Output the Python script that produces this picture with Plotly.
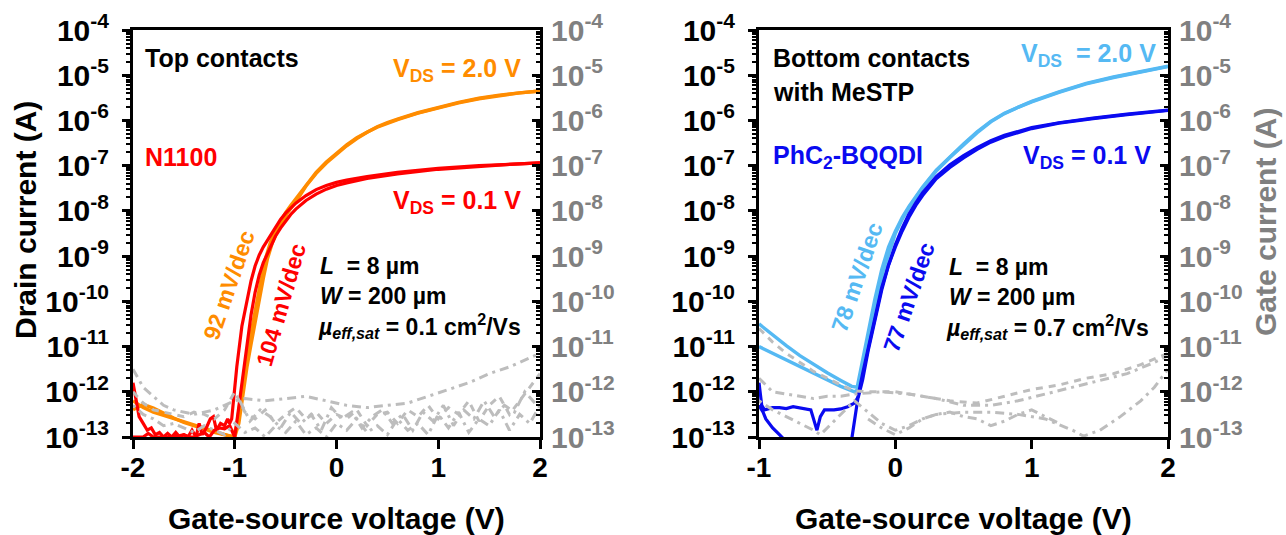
import plotly.graph_objects as go

# ---------------- Top-contact N1100 transistor (left panel) ----------------
vgs_n1100_2v0_fwd = [-2.0, -1.9, -1.8, -1.7, -1.6, -1.5, -1.4, -1.3, -1.2, -1.1, -1.02, -0.98, -0.94,
                     -0.9, -0.86, -0.82, -0.78, -0.74, -0.7, -0.65, -0.6, -0.55, -0.5, -0.45, -0.4,
                     -0.3, -0.2, -0.1, 0.0, 0.1, 0.2, 0.3, 0.4, 0.5, 0.6, 0.8, 1.0, 1.2, 1.4, 1.6, 1.8,
                     2.0]
logid_n1100_2v0_fwd = [-12.2, -12.35, -12.45, -12.52, -12.58, -12.65, -12.72, -12.8, -12.86, -12.93, -13.0,
                       -12.75, -12.1, -11.45, -10.95, -10.45, -9.97, -9.5, -9.07, -8.7, -8.43, -8.22,
                       -8.04, -7.88, -7.73, -7.42, -7.15, -6.92, -6.72, -6.54, -6.38, -6.25, -6.14,
                       -6.05, -5.97, -5.83, -5.71, -5.6, -5.51, -5.44, -5.39, -5.35]

vgs_n1100_2v0_rev = [-2.0, -1.9, -1.8, -1.7, -1.6, -1.5, -1.4, -1.3, -1.2, -1.1, -1.0, -0.96, -0.92,
                     -0.88, -0.84, -0.8, -0.76, -0.72, -0.68, -0.63, -0.58, -0.53, -0.48, -0.43,
                     -0.38, -0.3, -0.2, -0.1, 0.0, 0.1, 0.2, 0.3, 0.4, 0.5, 0.6, 0.8, 1.0, 1.2, 1.4,
                     1.6, 1.8, 2.0]
logid_n1100_2v0_rev = [-12.4, -12.28, -12.36, -12.48, -12.58, -12.68, -12.75, -12.82, -12.9, -12.95, -13.0,
                       -12.7, -12.05, -11.45, -10.95, -10.45, -9.97, -9.5, -9.07, -8.7, -8.43, -8.22,
                       -8.04, -7.88, -7.73, -7.45, -7.17, -6.94, -6.74, -6.56, -6.4, -6.26, -6.15,
                       -6.06, -5.98, -5.84, -5.72, -5.61, -5.52, -5.45, -5.39, -5.35]

vgs_n1100_0v1_fwd = [-2.0, -1.97, -1.94, -1.9, -1.86, -1.82, -1.78, -1.74, -1.7, -1.66, -1.62, -1.58,
                     -1.54, -1.5, -1.46, -1.42, -1.38, -1.35, -1.32, -1.28, -1.24, -1.21, -1.18, -1.14,
                     -1.1, -1.07, -1.05, -1.03, -0.98, -0.93, -0.88, -0.84, -0.8, -0.76, -0.72, -0.65,
                     -0.6, -0.55, -0.5, -0.45, -0.4, -0.3, -0.2, -0.1, 0.0, 0.1, 0.3, 0.6, 1.0, 1.4,
                     1.7, 2.0]
logid_n1100_0v1_fwd = [-11.8, -12.2, -12.55, -12.7, -12.85, -12.8, -12.95, -12.9, -13.0, -12.92, -13.0,
                       -12.9, -13.0, -12.95, -13.0, -12.85, -13.0, -12.7, -12.95, -12.8, -12.6, -12.55,
                       -12.85, -12.7, -12.75, -12.6, -12.7, -12.6, -11.45, -10.55, -9.97, -9.55, -9.22,
                       -8.98, -8.8, -8.55, -8.36, -8.19, -8.05, -7.93, -7.83, -7.66, -7.53, -7.44,
                       -7.37, -7.32, -7.24, -7.15, -7.06, -7.0, -6.97, -6.94]

vgs_n1100_0v1_rev = [-2.0, -1.9, -1.85, -1.8, -1.7, -1.6, -1.5, -1.45, -1.4, -1.3, -1.25, -1.2, -1.15,
                     -1.1, -1.05, -1.0, -0.97, -0.93, -0.88, -0.84, -0.8, -0.76, -0.72, -0.65, -0.6,
                     -0.55, -0.5, -0.45, -0.4, -0.3, -0.2, -0.1, 0.0, 0.1, 0.3, 0.6, 1.0, 1.4, 1.7, 2.0]
logid_n1100_0v1_rev = [-13.0, -13.0, -12.92, -13.0, -13.0, -13.0, -12.95, -13.0, -13.0, -12.9, -13.0,
                       -12.85, -12.8, -12.82, -12.75, -13.0, -12.5, -11.8, -10.9, -10.3, -9.8, -9.42,
                       -9.15, -8.78, -8.56, -8.38, -8.22, -8.08, -7.96, -7.77, -7.63, -7.52, -7.44,
                       -7.38, -7.28, -7.18, -7.08, -7.01, -6.97, -6.94]

# Gate leakage of the N1100 device
vg_leak_n1100_a = [-2.0, -1.9, -1.8, -1.7, -1.6, -1.5, -1.4, -1.3, -1.2, -1.1, -1.0, -0.9, -0.7, -0.5,
                   -0.3, -0.1, 0.1, 0.3, 0.5, 0.7, 0.9, 1.1, 1.3, 1.5, 1.7, 1.9, 2.0]
logig_leak_n1100_a = [-11.5, -11.9, -12.1, -12.3, -12.4, -12.45, -12.5, -12.45, -12.4, -12.3, -12.2,
                      -12.15, -12.2, -12.15, -12.1, -12.2, -12.3, -12.35, -12.3, -12.25, -12.1, -11.95,
                      -11.8, -11.6, -11.45, -11.25, -11.15]

vg_leak_n1100_b = [-2.0, -1.9, -1.8, -1.7, -1.6, -1.5, -1.4, -1.3, -1.2, -1.1, -1.0, -0.9, -0.8, -0.7,
                   -0.6, -0.5, -0.4, -0.3, -0.2, -0.1, 0.0, 0.1, 0.2, 0.3, 0.4, 0.5, 0.6, 0.7, 0.8, 0.9,
                   1.0, 1.1, 1.2, 1.3, 1.4, 1.5, 1.6, 1.7, 1.8, 1.9, 2.0]
logig_leak_n1100_b = [-12.0, -12.25, -12.4, -12.45, -12.5, -12.55, -12.45, -12.5, -12.6, -12.4, -12.0,
                      -12.45, -12.6, -12.4, -12.7, -12.5, -12.35, -12.6, -12.45, -12.7, -12.5, -12.6,
                      -12.4, -12.75, -12.5, -12.45, -12.7, -12.4, -12.55, -12.3, -12.6, -12.35, -12.5,
                      -12.2, -12.65, -12.3, -12.1, -12.5, -12.2, -11.9, -11.6]

vg_leak_n1100_c = [-2.0, -1.9, -1.8, -1.7, -1.6, -1.5, -1.4, -1.3, -1.2, -1.1, -1.0, -0.9, -0.8, -0.7,
                   -0.6, -0.5, -0.4, -0.3, -0.2, -0.1, 0.0, 0.1, 0.2, 0.3, 0.4, 0.5, 0.6, 0.7, 0.8, 0.9,
                   1.0, 1.1, 1.2, 1.3, 1.4, 1.5, 1.6, 1.7, 1.8, 1.9, 2.0]
logig_leak_n1100_c = [-12.3, -12.5, -12.6, -12.75, -12.7, -12.8, -12.9, -12.75, -12.85, -12.95, -12.7,
                      -12.9, -12.8, -13.0, -12.75, -12.9, -12.65, -12.95, -12.8, -13.0, -12.7, -12.85,
                      -12.6, -12.9, -12.75, -12.95, -12.6, -12.85, -12.7, -12.95, -12.5, -12.8, -12.45,
                      -12.9, -12.6, -12.75, -12.4, -12.85, -12.5, -12.7, -12.3]

vg_leak_n1100_d = [-0.95, -0.85, -0.75, -0.65, -0.55, -0.45, -0.35, -0.25, -0.15, -0.05, 0.05, 0.15,
                   0.25, 0.35, 0.45, 0.55, 0.65, 0.75, 0.85, 0.95, 1.05, 1.15, 1.25, 1.35, 1.45, 1.55,
                   1.65, 1.75, 1.85, 1.95]
logig_leak_n1100_d = [-12.2, -12.65, -12.4, -12.55, -12.8, -12.45, -12.7, -12.5, -12.85, -12.35, -12.6,
                      -12.45, -12.8, -12.55, -12.4, -12.7, -12.5, -12.85, -12.45, -12.65, -12.3, -12.75,
                      -12.4, -12.6, -12.2, -12.55, -12.3, -12.45, -12.0, -12.25]

# ------------- Bottom-contact PhC2-BQQDI transistor (right panel) -------------
vgs_bqqdi_2v0_fwd = [-1.0, -0.9, -0.8, -0.7, -0.6, -0.5, -0.4, -0.32, -0.28, -0.24, -0.2, -0.15, -0.1,
                     -0.05, 0.0, 0.05, 0.1, 0.2, 0.3, 0.4, 0.5, 0.6, 0.7, 0.8, 0.9, 1.0, 1.2, 1.4, 1.6,
                     1.8, 2.0]
logid_bqqdi_2v0_fwd = [-10.5, -10.75, -10.98, -11.2, -11.4, -11.58, -11.75, -11.88, -11.9, -11.3, -10.7,
                       -9.95, -9.3, -8.8, -8.45, -8.15, -7.9, -7.47, -7.1, -6.8, -6.52, -6.25, -6.02,
                       -5.84, -5.7, -5.58, -5.37, -5.18, -5.04, -4.92, -4.8]

vgs_bqqdi_2v0_rev = [-1.0, -0.9, -0.8, -0.7, -0.6, -0.5, -0.4, -0.3, -0.27, -0.23, -0.19, -0.14, -0.09,
                     -0.04, 0.0, 0.05, 0.1, 0.2, 0.3, 0.4, 0.5, 0.6, 0.7, 0.8, 0.9, 1.0, 1.2, 1.4, 1.6,
                     1.8, 2.0]
logid_bqqdi_2v0_rev = [-11.0, -11.15, -11.3, -11.45, -11.6, -11.75, -11.88, -12.0, -11.95, -11.35, -10.75,
                       -10.0, -9.35, -8.85, -8.5, -8.19, -7.93, -7.49, -7.12, -6.82, -6.54, -6.27, -6.03,
                       -5.85, -5.71, -5.59, -5.38, -5.19, -5.05, -4.93, -4.81]

vgs_bqqdi_0v1_fwd = [-1.0, -0.98, -0.96, -0.93, -0.9, -0.85, -0.8, -0.75, -0.7, -0.65, -0.62, -0.6,
                     -0.575, -0.55, -0.52, -0.45, -0.4, -0.35, -0.3, -0.27, -0.24, -0.2, -0.14, -0.1,
                     -0.05, 0.0, 0.05, 0.1, 0.15, 0.2, 0.3, 0.4, 0.5, 0.6, 0.7, 0.8, 1.0, 1.2, 1.45,
                     1.7, 2.0]
logid_bqqdi_0v1_fwd = [-11.8, -12.3, -12.4, -12.38, -12.35, -12.35, -12.37, -12.33, -12.35, -12.38,
                       -12.4, -12.6, -12.85, -12.55, -12.4, -12.4, -12.38, -12.33, -12.25, -12.1, -11.74,
                       -11.1, -10.27, -9.75, -9.2, -8.75, -8.38, -8.07, -7.82, -7.6, -7.24, -6.98, -6.78,
                       -6.6, -6.45, -6.33, -6.16, -6.05, -5.95, -5.86, -5.77]

vgs_bqqdi_0v1_rev = [-1.0, -0.97, -0.95, -0.9, -0.85, -0.8, -0.7, -0.5, -0.32, -0.3, -0.27, -0.24, -0.2,
                     -0.14, -0.1, -0.05, 0.0, 0.05, 0.1, 0.15, 0.2, 0.3, 0.4, 0.5, 0.6, 0.7, 0.8, 1.0,
                     1.2, 1.45, 1.7, 2.0]
logid_bqqdi_0v1_rev = [-12.3, -12.45, -12.6, -12.8, -12.95, -13.1, -13.2, -13.2, -13.05, -12.6, -12.05,
                       -11.6, -11.05, -10.2, -9.7, -9.2, -8.8, -8.45, -8.14, -7.88, -7.66, -7.29, -7.04,
                       -6.83, -6.64, -6.48, -6.36, -6.18, -6.06, -5.96, -5.87, -5.78]

# Gate leakage of the PhC2-BQQDI device
vg_leak_bqqdi_a = [-1.0, -0.9, -0.8, -0.7, -0.6, -0.5, -0.4, -0.3, -0.2, 0.0, 0.2, 0.4, 0.6, 0.8, 1.0,
                   1.2, 1.4, 1.6, 1.8, 2.0]
logig_leak_bqqdi_a = [-10.6, -10.9, -11.15, -11.35, -11.55, -11.7, -11.85, -11.98, -12.0, -12.0, -12.1,
                      -12.2, -12.25, -12.1, -11.95, -11.85, -11.7, -11.6, -11.4, -11.15]

vg_leak_bqqdi_b = [-1.0, -0.9, -0.8, -0.7, -0.6, -0.5, -0.4, -0.3, -0.1, 0.1, 0.3, 0.5, 0.7, 0.9, 1.1,
                   1.3, 1.5, 1.7, 1.9, 2.0]
logig_leak_bqqdi_b = [-11.7, -12.0, -12.05, -12.1, -12.15, -12.1, -12.1, -12.05, -12.0, -12.05, -12.15,
                      -12.3, -12.3, -12.2, -12.05, -11.9, -11.75, -11.6, -11.35, -11.2]

vg_leak_bqqdi_c = [-1.0, -0.9, -0.8, -0.7, -0.6, -0.55, -0.5, -0.4, -0.3, -0.2, -0.1, 0.0, 0.1, 0.2,
                   0.3, 0.5, 0.7, 0.9, 1.1, 1.3, 1.38, 1.5, 1.65, 1.8, 1.9, 2.0]
logig_leak_bqqdi_c = [-12.2, -12.4, -12.55, -12.7, -12.85, -12.95, -12.8, -12.5, -12.2, -12.45, -12.7,
                      -12.85, -12.75, -12.6, -12.5, -12.45, -12.45, -12.5, -12.6, -12.85, -12.98,
                      -12.85, -12.55, -12.2, -11.9, -11.5]

vg_leak_bqqdi_d = [-0.2, -0.1, 0.0, 0.1, 0.2, 0.3, 0.4, 0.5, 0.6, 0.7, 0.8, 0.9, 1.0, 1.1, 1.2]
logig_leak_bqqdi_d = [-12.6, -12.8, -12.95, -12.8, -12.6, -12.5, -12.45, -12.55, -12.6, -12.75, -12.65,
                      -12.5, -12.4, -12.55, -12.7]

# Axis ticks
decade_exponents = [-13, -12, -11, -10, -9, -8, -7, -6, -5, -4]
x_ticks_left = [-2, -1, 0, 1, 2]
x_ticks_right = [-1, 0, 1, 2]

# ---------------- styling ----------------
W, H = 1286, 535
FONT = "Arial, Liberation Sans, sans-serif"
ORANGE = "#FF8C00"
RED = "#FF0000"
LIGHT_BLUE = "#55B9F3"
DARK_BLUE = "#0A0AF0"
LEAK_GRAY = "#BDBDBD"
TICK_GRAY = "#808080"

PLOT_TOP, PLOT_BOTTOM = 30, 437
LEFT_X0, LEFT_X1 = 133, 540
RIGHT_X0, RIGHT_X1 = 759, 1168


def fx(px):
    return px / W


def fy(py):
    return 1 - py / H


def pow10(vals):
    return [10 ** v for v in vals]


tick_vals = [10.0 ** e for e in decade_exponents]
tick_text = ["10<sup>%d</sup>" % e for e in decade_exponents]
minor_vals = [m * 10.0 ** e for e in decade_exponents[:-1] for m in range(2, 10)]

fig = go.Figure()


def add_line(x, logy, color, width, xa, ya, dash="solid"):
    fig.add_trace(go.Scatter(
        x=x, y=pow10(logy), mode="lines", xaxis=xa, yaxis=ya,
        line=dict(color=color, width=width, dash=dash),
        showlegend=False, hoverinfo="skip"))


DASH_A = "9px,5px,3px,5px"
DASH_B = "7px,6px"
DASH_C = "3px,5px,9px,5px"

# left panel: leakage first, then drain currents
add_line(vg_leak_n1100_a, logig_leak_n1100_a, LEAK_GRAY, 3, "x", "y2", DASH_A)
add_line(vg_leak_n1100_b, logig_leak_n1100_b, LEAK_GRAY, 3, "x", "y2", DASH_B)
add_line(vg_leak_n1100_c, logig_leak_n1100_c, LEAK_GRAY, 3, "x", "y2", DASH_C)
add_line(vg_leak_n1100_d, logig_leak_n1100_d, LEAK_GRAY, 3, "x", "y2", DASH_A)
add_line(vgs_n1100_2v0_fwd, logid_n1100_2v0_fwd, ORANGE, 3.4, "x", "y")
add_line(vgs_n1100_2v0_rev, logid_n1100_2v0_rev, ORANGE, 3.4, "x", "y")
add_line(vgs_n1100_0v1_fwd, logid_n1100_0v1_fwd, RED, 3.2, "x", "y")
add_line(vgs_n1100_0v1_rev, logid_n1100_0v1_rev, RED, 3.2, "x", "y")

# right panel
add_line(vg_leak_bqqdi_a, logig_leak_bqqdi_a, LEAK_GRAY, 3, "x2", "y4", DASH_B)
add_line(vg_leak_bqqdi_b, logig_leak_bqqdi_b, LEAK_GRAY, 3, "x2", "y4", DASH_A)
add_line(vg_leak_bqqdi_c, logig_leak_bqqdi_c, LEAK_GRAY, 3, "x2", "y4", DASH_C)
add_line(vg_leak_bqqdi_d, logig_leak_bqqdi_d, LEAK_GRAY, 3, "x2", "y4", DASH_A)
add_line(vgs_bqqdi_2v0_fwd, logid_bqqdi_2v0_fwd, LIGHT_BLUE, 3.4, "x2", "y3")
add_line(vgs_bqqdi_2v0_rev, logid_bqqdi_2v0_rev, LIGHT_BLUE, 3.4, "x2", "y3")
add_line(vgs_bqqdi_0v1_fwd, logid_bqqdi_0v1_fwd, DARK_BLUE, 3.2, "x2", "y3")
add_line(vgs_bqqdi_0v1_rev, logid_bqqdi_0v1_rev, DARK_BLUE, 3.2, "x2", "y3")


def x_axis(domain, rng, ticks, anchor):
    return dict(domain=domain, range=rng, anchor=anchor, tickmode="array", tickvals=ticks,
                ticktext=[str(t) for t in ticks], ticks="outside", ticklen=9, tickwidth=3,
                tickcolor="black", showline=True, linewidth=3, linecolor="black", mirror=True,
                showgrid=False, zeroline=False, automargin=False, ticklabelstandoff=-6,
                tickfont=dict(family=FONT, size=28, color="black", weight="bold"))


def y_axis(anchor, side, color, tick_dir, standoff, overlaying=None):
    ax = dict(type="log", range=[-13, -4], anchor=anchor, side=side, tickmode="array",
              tickvals=tick_vals, ticktext=tick_text, ticks=tick_dir, ticklen=8, tickwidth=3,
              tickcolor="black", showline=True, linewidth=3, linecolor="black",
              showgrid=False, zeroline=False, automargin=False, ticklabelstandoff=standoff,
              minor=dict(tickmode="array", tickvals=minor_vals, ticks=tick_dir, ticklen=4,
                         tickwidth=2, tickcolor="black", showgrid=False),
              tickfont=dict(family=FONT, size=30, color=color, weight="bold"))
    if overlaying:
        ax["overlaying"] = overlaying
    else:
        ax["domain"] = [fy(PLOT_BOTTOM), fy(PLOT_TOP)]
    return ax


fig.update_layout(
    width=W, height=H, margin=dict(l=0, r=0, t=0, b=0),
    paper_bgcolor="white", plot_bgcolor="white",
    xaxis=x_axis([fx(LEFT_X0), fx(LEFT_X1)], [-2, 2], x_ticks_left, "y"),
    yaxis=y_axis("x", "left", "black", "outside", 7),
    yaxis2=y_axis("x", "right", TICK_GRAY, "inside", 2, overlaying="y"),
    xaxis2=x_axis([fx(RIGHT_X0), fx(RIGHT_X1)], [-1, 2], x_ticks_right, "y3"),
    yaxis3=y_axis("x2", "left", "black", "outside", 7),
    yaxis4=y_axis("x2", "right", TICK_GRAY, "inside", 2, overlaying="y3"),
)


def label(text, x, y, color="black", size=25, xanchor="left", angle=0):
    fig.add_annotation(text=text, x=fx(x), y=fy(y), xref="paper", yref="paper",
                       showarrow=False, xanchor=xanchor, yanchor="middle", textangle=angle,
                       font=dict(family=FONT, size=size, color=color, weight="bold"))


# axis titles
label("Drain current (A)", 25, 220, size=30, xanchor="center", angle=-90)
label("Gate current (A)", 1265, 222, color=TICK_GRAY, size=30, xanchor="center", angle=-90)
label("Gate-source voltage (V)", (LEFT_X0 + LEFT_X1) / 2, 518, size=30, xanchor="center")
label("Gate-source voltage (V)", (RIGHT_X0 + RIGHT_X1) / 2, 518, size=30, xanchor="center")

# left panel labels
label("Top contacts", 143, 58)
label("N1100", 143, 157, color=RED)
label("V<sub>DS</sub> = 2.0 V", 523, 70, color=ORANGE, xanchor="right")
label("V<sub>DS</sub> = 0.1 V", 523, 202, color=RED, xanchor="right")
label("92 mV/dec", 229, 285, color=ORANGE, size=23, xanchor="center", angle=-71)
label("104 mV/dec", 281, 305, color=RED, size=23, xanchor="center", angle=-74)
label("<i>L</i>  = 8 µm", 318, 266, size=23)
label("<i>W</i> = 200 µm", 318, 296, size=23)
label("<i>µ</i><sub><i>eff,sat</i></sub> = 0.1 cm<sup>2</sup>/Vs", 316, 326, size=23)

# right panel labels
label("Bottom contacts", 771, 58)
label("with MeSTP", 771, 92)
label("PhC<sub>2</sub>-BQQDI", 771, 157, color=DARK_BLUE)
label("V<sub>DS</sub>  = 2.0 V", 1158, 55, color=LIGHT_BLUE, xanchor="right")
label("V<sub>DS</sub> = 0.1 V", 1153, 157, color=DARK_BLUE, xanchor="right")
label("78 mV/dec", 857, 277, color=LIGHT_BLUE, size=23, xanchor="center", angle=-71)
label("77 mV/dec", 909, 297, color=DARK_BLUE, size=23, xanchor="center", angle=-71)
label("<i>L</i>  = 8 µm", 947, 267, size=23)
label("<i>W</i> = 200 µm", 947, 297, size=23)
label("<i>µ</i><sub><i>eff,sat</i></sub> = 0.7 cm<sup>2</sup>/Vs", 944, 327, size=23)

fig.write_html("out.html")
